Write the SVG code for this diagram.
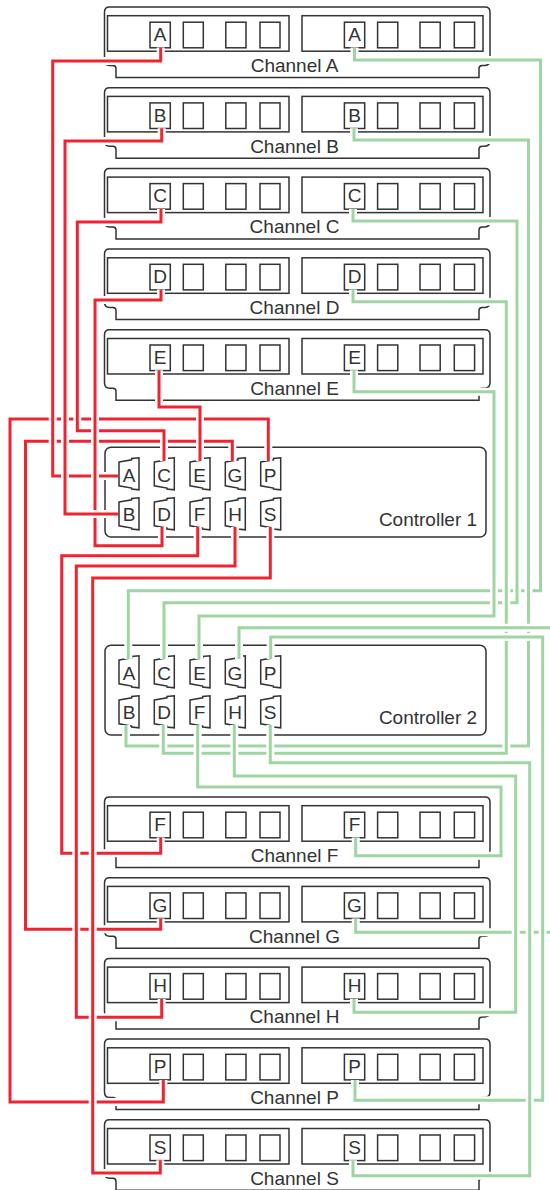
<svg xmlns="http://www.w3.org/2000/svg" xmlns:xlink="http://www.w3.org/1999/xlink" width="550" height="1190" viewBox="0 0 550 1190">
<style>
.s{fill:none;stroke:#333;stroke-width:1.5}
.t{font-family:"Liberation Sans",Arial,sans-serif;font-size:19px;fill:#333;text-anchor:middle}
.c{fill:none;stroke:#fff;stroke-width:8}
.r{fill:none;stroke:#ee2430;stroke-width:3}
.g{fill:none;stroke:#9fd5a3;stroke-width:3}
</style>
<defs>
<g id="chan" class="s">
<path d="M479,70.5V61.5Q479,58.7 482,58.5H485Q490,58 490,53V5Q490,0 485,0H109.5Q104.5,0 104.5,5V53Q104.5,58.5 109.5,58.5H113Q116,58.7 116,61.5V70.5H479Z"/>
<rect x="107.5" y="8.7" width="181.5" height="35.5"/>
<rect x="302" y="8.7" width="181" height="35.5"/>
<rect x="150" y="15.2" width="20.3" height="25.6"/>
<rect x="183.3" y="15.2" width="20" height="25.6"/>
<rect x="225.8" y="15.2" width="20.2" height="25.6"/>
<rect x="260" y="15.2" width="20" height="25.6"/>
<rect x="344.4" y="15.2" width="20.3" height="25.6"/>
<rect x="377.6" y="15.2" width="20.2" height="25.6"/>
<rect x="420" y="15.2" width="20.2" height="25.6"/>
<rect x="454.3" y="15.2" width="20.3" height="25.6"/>
</g>
<path id="p" class="s" d="M0,4.3L12.7,2V0.7L20,0V32L12.7,31.3V30.3L0,28Z"/>
<g id="ctrl">
<rect class="s" x="105" y="0" width="381" height="89.7" rx="6"/>
<use href="#p" x="119" y="10.5"/><use href="#p" x="154.3" y="10.5"/><use href="#p" x="190" y="10.5"/><use href="#p" x="225.3" y="10.5"/><use href="#p" x="260.7" y="10.5"/>
<use href="#p" x="119" y="50.5"/><use href="#p" x="154.3" y="50.5"/><use href="#p" x="190" y="50.5"/><use href="#p" x="225.3" y="50.5"/><use href="#p" x="260.7" y="50.5"/>
<g class="t">
<text x="129" y="34.5">A</text><text x="164" y="34.5">C</text><text x="199.5" y="34.5">E</text><text x="235" y="34.5">G</text><text x="270" y="34.5">P</text>
<text x="129" y="73.5">B</text><text x="164" y="73.5">D</text><text x="199.5" y="73.5">F</text><text x="235" y="73.5">H</text><text x="270" y="73.5">S</text>
</g>
</g>
</defs>
<g id="channel-a"><use href="#chan" y="7"/><text class="t" x="160" y="41">A</text><text class="t" x="354.5" y="41">A</text><text class="t" x="294.5" y="72">Channel A</text></g>
<g id="channel-b"><use href="#chan" y="87.7"/><text class="t" x="160" y="121.7">B</text><text class="t" x="354.5" y="121.7">B</text><text class="t" x="294.5" y="152.7">Channel B</text></g>
<g id="channel-c"><use href="#chan" y="168.4"/><text class="t" x="160" y="202.4">C</text><text class="t" x="354.5" y="202.4">C</text><text class="t" x="294.5" y="233.4">Channel C</text></g>
<g id="channel-d"><use href="#chan" y="249.1"/><text class="t" x="160" y="283.1">D</text><text class="t" x="354.5" y="283.1">D</text><text class="t" x="294.5" y="314.1">Channel D</text></g>
<g id="channel-e"><use href="#chan" y="329.8"/><text class="t" x="160" y="363.8">E</text><text class="t" x="354.5" y="363.8">E</text><text class="t" x="294.5" y="394.8">Channel E</text></g>
<g id="controller-1"><use href="#ctrl" y="447.3"/><text class="t" x="428" y="526">Controller 1</text></g>
<g id="controller-2"><use href="#ctrl" y="645.3"/><text class="t" x="428" y="724">Controller 2</text></g>
<g id="channel-f"><use href="#chan" y="797"/><text class="t" x="160" y="831">F</text><text class="t" x="354.5" y="831">F</text><text class="t" x="294.5" y="862">Channel F</text></g>
<g id="channel-g"><use href="#chan" y="877.7"/><text class="t" x="160" y="911.7">G</text><text class="t" x="354.5" y="911.7">G</text><text class="t" x="294.5" y="942.7">Channel G</text></g>
<g id="channel-h"><use href="#chan" y="958.4"/><text class="t" x="160" y="992.4">H</text><text class="t" x="354.5" y="992.4">H</text><text class="t" x="294.5" y="1023.4">Channel H</text></g>
<g id="channel-p"><use href="#chan" y="1039.1"/><text class="t" x="160" y="1073.1">P</text><text class="t" x="354.5" y="1073.1">P</text><text class="t" x="294.5" y="1104.1">Channel P</text></g>
<g id="channel-s"><use href="#chan" y="1119.8"/><text class="t" x="160" y="1153.8">S</text><text class="t" x="354.5" y="1153.8">S</text><text class="t" x="294.5" y="1184.8">Channel S</text></g>
<g id="connectors">
<defs>
<path id="rP" d="M163.3,1080V1102H10V419H268.3V461"/>
<path id="rG" d="M160.7,918.5V929.3H25.5V441.3H232.3V461"/>
<path id="rA" d="M160.7,47.5V61H52.7V476H118"/>
<path id="rC" d="M161,209V222H77.3V430.7H164V461"/>
<path id="rD" d="M161,289.5V300H95V545.7H162V527"/>
<path id="rB" d="M161.7,128.2V141H65V514H118"/>
<path id="rE" d="M159,370.3V407H200V461"/>
<path id="rF" d="M197.7,527V555.7H61.7V853.3H160.7V837.5"/>
<path id="rH" d="M235,527V566H76.3V1017.3H161.7V999"/>
<path id="rS" d="M270.3,527V578H92.7V1173H160.3V1160.3"/>
<path id="gA" d="M354.5,47.5V60H540.5V590.7H128.3V659"/>
<path id="gC" d="M353,209V221H517V602.7H164V659"/>
<path id="gE" d="M354,370.3V391.7H494V616H199V659"/>
<path id="gB" d="M354,128.2V140H528.5V746H126V725"/>
<path id="gD" d="M353,289.5V301.7H506.3V753.3H163.3V725"/>
<path id="gG" d="M239,659V627.7H560V932.3H355.7V918.5"/>
<path id="gP" d="M270.7,659V637H542.7V1100.3H355V1080"/>
<path id="gF" d="M197.7,725V787H501V855.7H355.7V837.5"/>
<path id="gH" d="M234.3,725V776H515.7V1012.3H354V999"/>
<path id="gS" d="M270.3,725V762.7H529.7V1175.7H353V1160.3"/>
</defs>
<g id="red-wires">
<use href="#rP" class="c"/><use href="#rP" class="r"/>
<use href="#rG" class="c"/><use href="#rG" class="r"/>
<use href="#rA" class="c"/><use href="#rA" class="r"/>
<use href="#rC" class="c"/><use href="#rC" class="r"/>
<use href="#rD" class="c"/><use href="#rD" class="r"/>
<use href="#rB" class="c"/><use href="#rB" class="r"/>
<use href="#rE" class="c"/><use href="#rE" class="r"/>
<use href="#rF" class="c"/><use href="#rF" class="r"/>
<use href="#rH" class="c"/><use href="#rH" class="r"/>
<use href="#rS" class="c"/><use href="#rS" class="r"/>
</g>
<g id="green-wires">
<use href="#gA" class="c"/><use href="#gA" class="g"/>
<use href="#gC" class="c"/><use href="#gC" class="g"/>
<use href="#gE" class="c"/><use href="#gE" class="g"/>
<use href="#gB" class="c"/><use href="#gB" class="g"/>
<use href="#gD" class="c"/><use href="#gD" class="g"/>
<use href="#gG" class="c"/><use href="#gG" class="g"/>
<use href="#gP" class="c"/><use href="#gP" class="g"/>
<use href="#gF" class="c"/><use href="#gF" class="g"/>
<use href="#gH" class="c"/><use href="#gH" class="g"/>
<use href="#gS" class="c"/><use href="#gS" class="g"/>
</g>
</g>
</svg>
